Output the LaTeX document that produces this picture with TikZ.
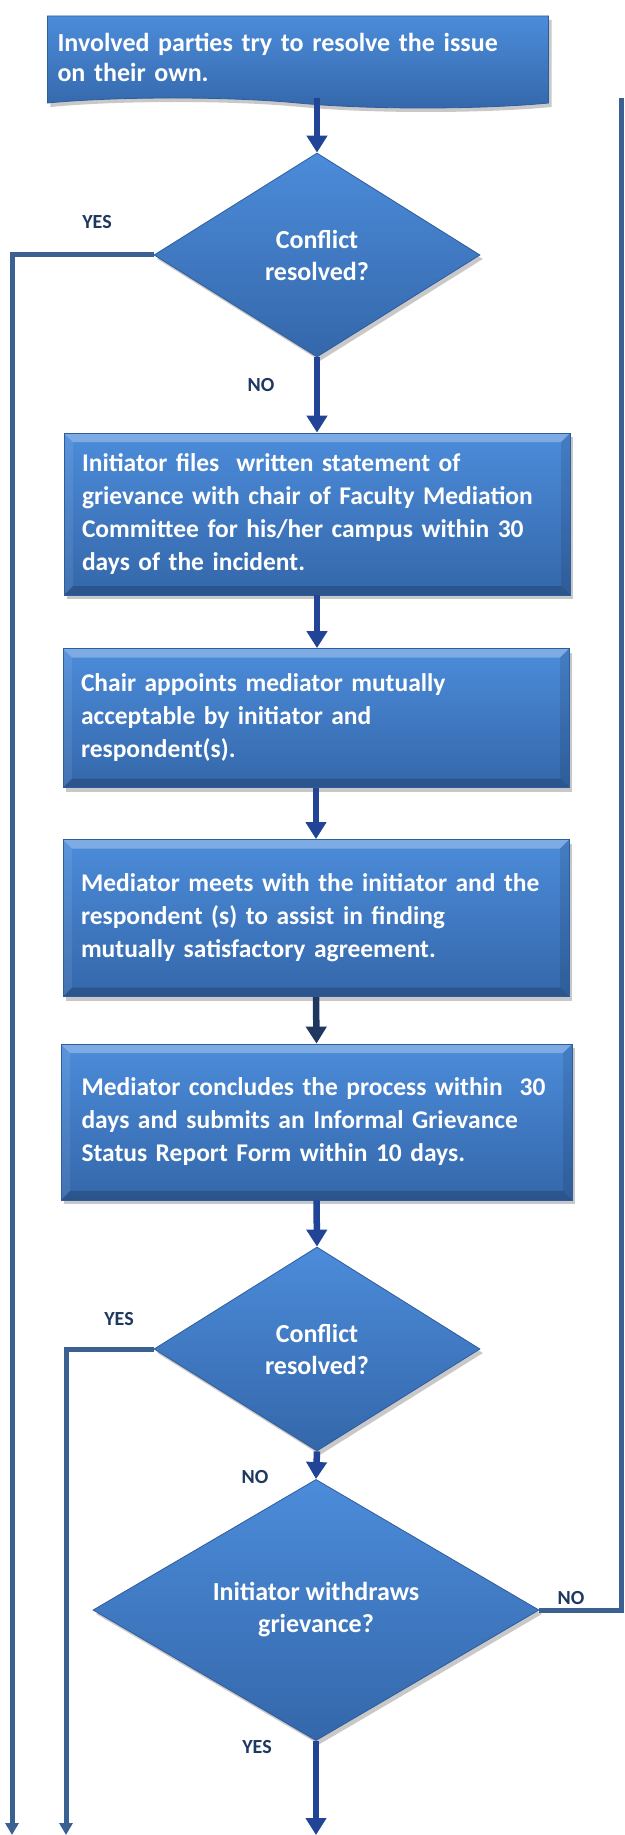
\documentclass[tikz,border=0pt]{standalone}
\usepackage{fontspec}
\setmainfont{Carlito}
\usetikzlibrary{shapes.geometric,shapes.symbols,shadows,arrows.meta}

\definecolor{boxtop}{RGB}{76,140,218}
\definecolor{boxbot}{RGB}{52,103,170}
\definecolor{boxedge}{RGB}{47,92,156}
\definecolor{flowblue}{RGB}{33,68,150}
\definecolor{darkflow}{RGB}{31,56,96}
\definecolor{sideblue}{RGB}{58,97,145}
\definecolor{labelnavy}{RGB}{31,56,96}

% light top edge, dark bottom edge
\newcommand\boxbevel{%
  \fill[white,opacity=.28] (path picture bounding box.north west) -- (path picture bounding box.north east)
    -- ([shift={(-9pt,-9pt)}]path picture bounding box.north east) -- ([shift={(9pt,-9pt)}]path picture bounding box.north west) -- cycle;
  \fill[black,opacity=.18] (path picture bounding box.south west) -- (path picture bounding box.south east)
    -- ([shift={(-9pt,9pt)}]path picture bounding box.south east) -- ([shift={(9pt,9pt)}]path picture bounding box.south west) -- cycle;
  \fill[black,opacity=.1] (path picture bounding box.north east) -- (path picture bounding box.south east)
    -- ([shift={(-9pt,9pt)}]path picture bounding box.south east) -- ([shift={(-9pt,-9pt)}]path picture bounding box.north east) -- cycle;
  \fill[white,opacity=.08] (path picture bounding box.north west) -- (path picture bounding box.south west)
    -- ([shift={(9pt,9pt)}]path picture bounding box.south west) -- ([shift={(9pt,-9pt)}]path picture bounding box.north west) -- cycle;
}

\tikzset{
  boxtext/.style={text=white, font=\fontsize{25.5}{33}\selectfont\bfseries},
  blueshade/.style={top color=boxtop, bottom color=boxbot, draw=boxedge, line width=.8pt,
    drop shadow={shadow xshift=3pt, shadow yshift=-4pt, opacity=.3, fill=black!70}},
  stepbox/.style={rectangle, blueshade, boxtext, minimum width=506pt, text width=480pt,
    inner xsep=13pt, align=left, path picture={\boxbevel}},
  startbox/.style={tape, tape bend top=none, tape bend bottom=out and in, tape bend height=10pt,
    blueshade, boxtext, minimum width=501pt, minimum height=92pt, text width=481pt,
    inner xsep=10pt, align=left, font=\fontsize{26}{30}\selectfont\bfseries},
  decision/.style={diamond, blueshade, boxtext, inner sep=0pt, align=center,
    minimum width=326pt, minimum height=204pt, font=\fontsize{26}{32}\selectfont\bfseries},
  answer/.style={text=labelnavy, font=\fontsize{20}{22}\selectfont\bfseries, inner sep=0pt},
  flow/.style={draw=flowblue, line width=6.5pt, -{Triangle[width=20pt,length=17pt]}},
  sideline/.style={draw=sideblue, line width=5pt},
  sidearrow/.style={sideline, -{Triangle[width=13pt,length=12pt]}}
}

\begin{document}
\begin{tikzpicture}[x=1pt,y=-1pt]
\fill[white] (0,0) rectangle (624,1835);
\useasboundingbox (0,0) rectangle (624,1835);

% steps and decisions
\node[startbox] (start) at (298,57) {Involved parties try to resolve the issue\\on their own.};
\node[decision] (check1) at (317,255) {Conflict\\resolved?};
\node[stepbox, minimum height=162pt] (grievance) at (317,514) {\hspace{5pt}Initiator files \ written statement of\\\hspace{5pt}grievance with chair of Faculty Mediation\\\hspace{5pt}Committee for his/her campus within 30\\\hspace{5pt}days of the incident.};
\node[stepbox, minimum height=139pt] (appoint) at (316,718) {\hspace{5pt}Chair appoints mediator mutually\\\hspace{5pt}acceptable by initiator and\\\hspace{5pt}respondent(s).};
\node[stepbox, minimum height=157pt] (meeting) at (316,918) {\hspace{5pt}Mediator meets with the initiator and the\\\hspace{5pt}respondent (s) to assist in finding\\\hspace{5pt}mutually satisfactory agreement.};
\node[stepbox, minimum width=511pt, minimum height=156pt] (conclude) at (316.5,1122) {\hspace{5pt}Mediator concludes the process within \ 30\\\hspace{5pt}days and submits an Informal Grievance\\\hspace{5pt}Status Report Form within 10 days.};
\node[decision] (check2) at (317,1349) {Conflict\\resolved?};
\node[decision, minimum width=446pt] (withdraw) at (316,1610) {Initiator withdraws\\grievance?};

% free ends
\coordinate (outA) at (12,1835);
\coordinate (outB) at (66,1835);
\coordinate (outC) at (316,1835);
\coordinate (backtop) at (621.5,98);

% connectors
\draw[flow] (check1.north |- start.south) -- (check1.north);
\draw[flow] (check1.south) -- (grievance.north);
\draw[flow] (grievance.south) -- (grievance.south |- appoint.north);
\draw[flow] (appoint.south) -- (meeting.north);
\draw[flow, draw=darkflow] (meeting.south) -- (conclude.north);
\draw[flow] (conclude.south) -- (check2.north);
\draw[flow] (check2.south) -- (withdraw.north);
\draw[flow] (withdraw.south) -- (outC);
\draw[sidearrow] (check1.west) -| (outA);
\draw[sidearrow] (check2.west) -| (outB);
\draw[sideline] (withdraw.east) -| (backtop);

% answers
\node[answer] (yes1) at (97,222) {YES};
\node[answer] (no1) at (261,385) {NO};
\node[answer] (yes2) at (119,1319) {YES};
\node[answer] (no2) at (255,1477) {NO};
\node[answer] (no3) at (571,1598) {NO};
\node[answer] (yes3) at (257,1747) {YES};
\end{tikzpicture}
\end{document}
